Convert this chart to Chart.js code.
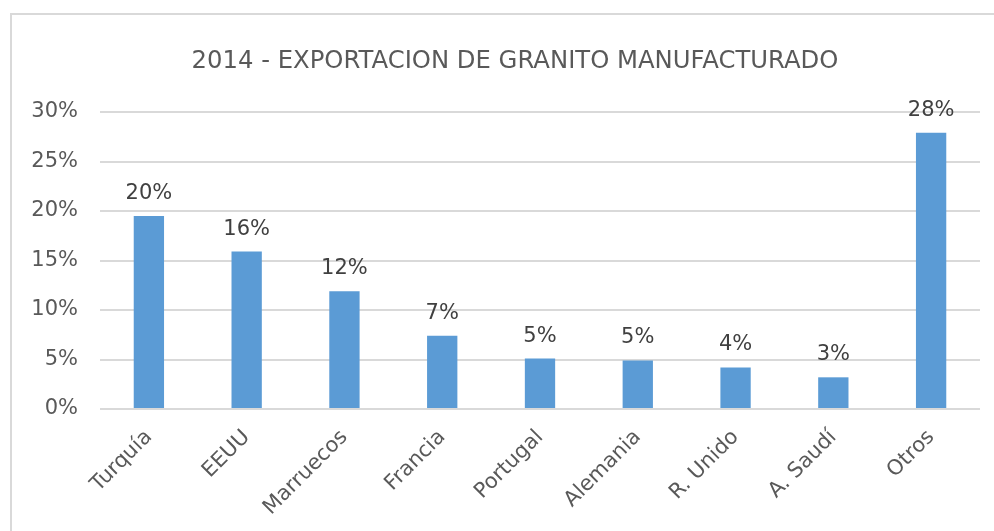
<!DOCTYPE html>
<html>
<head>
<meta charset="utf-8">
<script src="https://cdn.jsdelivr.net/npm/chart.js@4"></script>
<style>
  body { margin: 0; background: #fff; }
  #marco { position: absolute; left: 10px; top: 13px; width: 990px; height: 530px;
           border-left: 2px solid #d9d9d9; border-top: 2px solid #d9d9d9; }
  #wrap { position: absolute; left: 0; top: 0; width: 994px; height: 531px; }
</style>
</head>
<body>
<div id="marco"></div>
<div id="wrap"><canvas id="grafico" width="994" height="531"></canvas></div>
<script>
const paises = ['Turquía', 'EEUU', 'Marruecos', 'Francia', 'Portugal', 'Alemania', 'R. Unido', 'A. Saudí', 'Otros']
const exportacion = [19.5, 15.9, 11.9, 7.4, 5.1, 4.9, 4.2, 3.2, 27.9]
const titulo = '2014 - EXPORTACION DE GRANITO MANUFACTURADO'

const fuente = "'DejaVu Sans', sans-serif"

// etiquetas encima de cada barra + titulo
const etiquetas = {
  id: 'etiquetas',
  afterDatasetsDraw(chart) {
    const ctx = chart.ctx
    const meta = chart.getDatasetMeta(0)
    ctx.save()
    ctx.font = '21px ' + fuente
    ctx.fillStyle = '#404040'
    ctx.textAlign = 'center'
    ctx.textBaseline = 'alphabetic'
    meta.data.forEach((bar, i) => {
      ctx.fillText(Math.round(exportacion[i]) + '%', bar.x, bar.y - 17)
    })
    ctx.font = '24.3px ' + fuente
    ctx.fillStyle = '#595959'
    ctx.textBaseline = 'middle'
    ctx.fillText(titulo, 515, 62)
    ctx.restore()
  }
}

const ctx = document.getElementById('grafico')

new Chart(ctx, {
  type: 'bar',
  data: {
    labels: paises,
    datasets: [{
      data: exportacion,
      backgroundColor: '#5b9bd5',
      borderColor: '#5b9bd5',
      categoryPercentage: 1,
      barPercentage: 0.31
    }]
  },
  plugins: [etiquetas],
  options: {
    responsive: false,
    animation: false,
    layout: { padding: { left: 0, right: 14, top: 112, bottom: 0 } },
    plugins: {
      legend: { display: false },
      tooltip: { enabled: false },
      title: { display: false }
    },
    scales: {
      x: {
        grid: { display: false },
        border: { display: false },
        ticks: {
          color: '#595959',
          font: { family: fuente, size: 21 },
          maxRotation: 45,
          minRotation: 45,
          padding: 8
        },
        afterFit(scale) { scale.height = 122 }
      },
      y: {
        min: 0,
        max: 30,
        grid: { color: '#d9d9d9', lineWidth: 2, drawTicks: false },
        border: { display: false },
        ticks: {
          stepSize: 5,
          color: '#595959',
          font: { family: fuente, size: 21 },
          padding: 22,
          callback: (v) => v + '%'
        },
        afterFit(scale) { scale.width = 100 }
      }
    }
  }
})
</script>
</body>
</html>
